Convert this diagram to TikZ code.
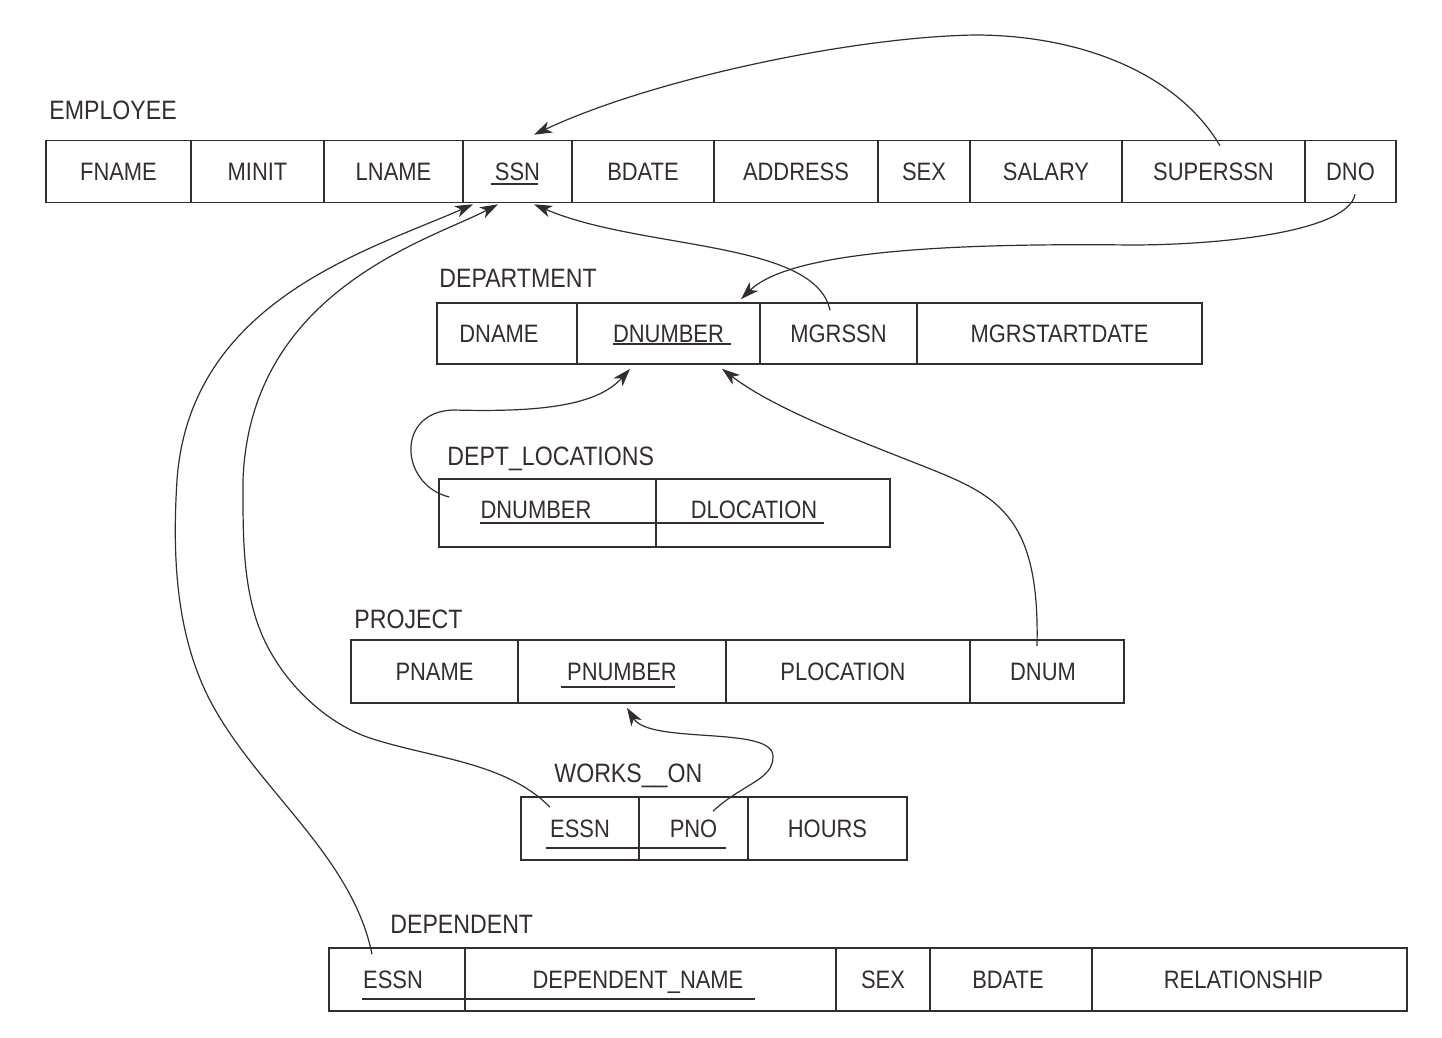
\documentclass[tikz,border=0pt]{standalone}
\usepackage{fontspec}
\setmainfont{Liberation Sans}[FakeStretch=0.87]
\usetikzlibrary{arrows.meta}
\definecolor{ink}{RGB}{52,44,50}

\begin{document}
\begin{tikzpicture}[x=0.5pt, y=-0.5pt, ink,
  cell/.style={draw, line width=0.8pt, inner sep=0pt, text height=9pt, text depth=0pt,
    font=\fontsize{12.6}{15}\selectfont},
  title/.style={anchor=base west, inner sep=0pt, font=\fontsize{13.3}{16}\selectfont},
  key/.style={line width=0.7pt},
  ref/.style={line width=0.6pt, -{Stealth[length=9pt, width=6pt, inset=2.5pt]}}]
 \useasboundingbox (0,0) rectangle (1442,1038);

 % tables
 \node[title] (employee) at (49,120) {EMPLOYEE};
 \foreach \nm/\lx/\rx/\txt in {fname/46/191/FNAME, minit/191/324/MINIT, lname/324/463/LNAME,
   ssn/463/572/SSN, bdate/572/714/BDATE, address/714/878/ADDRESS, sex/878/970/SEX,
   salary/970/1122/SALARY, superssn/1122/1305/SUPERSSN, dno/1305/1396/DNO}
   \node[cell, minimum height=31pt, minimum width={(\rx-\lx)*0.5pt}] (\nm) at ({(\lx+\rx)/2},171.5) {\txt};

 \node[title] (department) at (439,287) {DEPARTMENT};
 \foreach \nm/\lx/\rx/\txt in {dname/437/577/DNAME\kern8pt, dnumber/577/760/DNUMBER,
   mgrssn/760/917/MGRSSN, mgrstart/917/1202/MGRSTARTDATE}
   \node[cell, minimum height=30.5pt, minimum width={(\rx-\lx)*0.5pt}] (\nm) at ({(\lx+\rx)/2},333.5) {\txt};

 \node[title] (deptloc) at (447,465) {DEPT\_LOCATIONS};
 \foreach \nm/\lx/\rx/\txt in {dlnum/439/656/DNUMBER\kern11.5pt, dlloc/656/890/DLOCATION\kern19pt}
   \node[cell, minimum height=34pt, text depth=4pt, minimum width={(\rx-\lx)*0.5pt}] (\nm) at ({(\lx+\rx)/2},513) {\txt};

 \node[title] (project) at (354,628) {PROJECT};
 \foreach \nm/\lx/\rx/\txt in {pname/351/518/PNAME, pnumber/518/726/PNUMBER,
   plocation/726/970/PLOCATION\kern5pt, dnum/970/1124/DNUM\kern4pt}
   \node[cell, minimum height=31.5pt, minimum width={(\rx-\lx)*0.5pt}] (\nm) at ({(\lx+\rx)/2},671.5) {\txt};

 \node[title] (workson) at (554,782) {WORKS\_\_ON};
 \foreach \nm/\lx/\rx/\txt in {woessn/521/639/ESSN, pno/639/748/PNO, hours/748/907/HOURS}
   \node[cell, minimum height=31.5pt, minimum width={(\rx-\lx)*0.5pt}] (\nm) at ({(\lx+\rx)/2},828.5) {\txt};

 \node[title] (dependent) at (390,933) {DEPENDENT};
 \foreach \nm/\lx/\rx/\txt in {depessn/329/465/ESSN\kern4pt, depname/465/836/DEPENDENT\_NAME\kern12.5pt,
   depsex/836/930/SEX, depbdate/930/1092/BDATE\kern3pt, relationship/1092/1407/RELATIONSHIP\kern6pt}
   \node[cell, minimum height=31.5pt, minimum width={(\rx-\lx)*0.5pt}] (\nm) at ({(\lx+\rx)/2},979.5) {\txt};

 % primary keys
 \draw[key] (491,184) -- (538,184);
 \draw[key] (613,344) -- (731,344);
 \draw[key] (480,523) -- (824,523);
 \draw[key] (561,687) -- (675,687);
 \draw[key] (546,848) -- (726,848);
 \draw[key] (362,999) -- (755,999);

 % foreign keys
 \draw[ref] ([xshift=3.25pt,yshift=-3pt]superssn.north) .. controls (1175,70) and (1075,35) .. (975,35)
   .. controls (850,37) and (650,80) .. ([xshift=8.25pt,yshift=2.5pt]ssn.north);
 \draw[ref] ([xshift=2.25pt,yshift=4.5pt]dno.south) .. controls (1348,232) and (1220,245) .. (1131,245)
   .. controls (950,243) and (790,251) .. ([xshift=36.25pt,yshift=1.5pt]dnumber.north);
 \draw[ref] ([xshift=-4.25pt,yshift=-4pt]mgrssn.north) .. controls (815,240) and (640,250) .. ([xshift=8.25pt,yshift=-0.5pt]ssn.south);
 \draw[ref] ([xshift=5.5pt,yshift=8pt]dlnum.west) .. controls (400,485) and (395,412) .. (453,410)
   .. controls (530,412) and (595,408) .. ([xshift=-19.25pt,yshift=-2pt]dnumber.south);
 \draw[ref] ([xshift=-5pt,yshift=-3.5pt]dnum.north) .. controls (1040,520) and (1000,497) .. (933,470)
   .. controls (868,444) and (777,411) .. ([xshift=26.75pt,yshift=-2pt]dnumber.south);
 \draw[ref] ([xshift=9.75pt,yshift=-7.5pt]pno.north) .. controls (742,784) and (773,780) .. (773,757)
   .. controls (775,725) and (650,745) .. ([xshift=2.5pt,yshift=-2pt]pnumber.south);
 \draw[ref] ([xshift=-15pt,yshift=-5.5pt]woessn.north) .. controls (505,761) and (428,758) .. (367,737)
   .. controls (320,720) and (278,676) .. (260,630) .. controls (242,584) and (243,530) .. (243,480)
   .. controls (250,290) and (430,240) .. ([xshift=-9.75pt,yshift=-0.5pt]ssn.south);
 \draw[ref] ([xshift=-12.5pt,yshift=-3.5pt]depessn.north) .. controls (353,860) and (265,795) .. (217,713)
   .. controls (176,644) and (172,560) .. (177,480) .. controls (190,300) and (370,250) .. ([xshift=-22.25pt,yshift=-0.5pt]ssn.south);

\end{tikzpicture}
\end{document}
